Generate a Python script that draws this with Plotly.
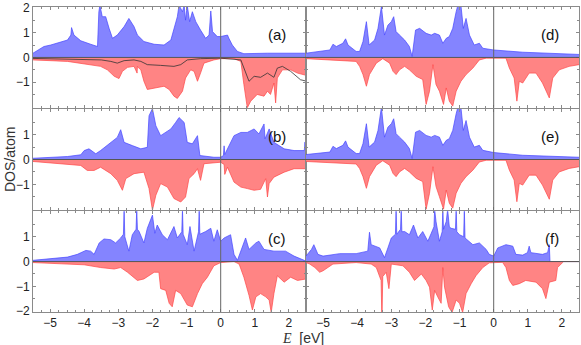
import plotly.graph_objects as go
from plotly.subplots import make_subplots

# ---- panel (a) ----
e_a_up = [-5.5, -5.18, -4.98, -4.49, -4.39, -4.37, -4.3, -4.1, -3.81, -3.61, -3.57, -3.54, -3.47, -3.37, -3.27,
          -3.17, -3.03, -2.83, -2.69, -2.54, -2.44, -2.25, -1.95, -1.66, -1.46, -1.37, -1.27, -1.22, -1.12,
          -1.07, -1.03, -0.98, -0.91, -0.83, -0.73, -0.59, -0.44, -0.34, -0.29, -0.24, -0.1, 0.0, 0.2, 0.24,
          0.34, 0.49, 0.68, 1.37, 2.5]
dos_a_up = [0.17, 0.44, 0.5, 0.7, 0.9, 1.2, 0.9, 0.67, 0.53, 0.44, 1.84, 2.1, 1.64, 1.64, 1.17,
            0.77, 0.9, 1.24, 1.57, 1.24, 0.9, 0.64, 0.53, 0.5, 0.7, 1.17, 1.64, 2.1, 1.84,
            2.1, 1.5, 2.1, 1.44, 1.84, 1.44, 1.1, 0.77, 0.9, 1.87, 1.04, 0.84, 0.84, 0.9, 0.77,
            0.5, 0.24, 0.15, 0.17, 0.17]
e_a_dn = [-5.5, -4.49, -3.52, -3.32, -3.12, -2.98, -2.88, -2.73, -2.54, -2.45, -2.44, -2.42, -2.34, -2.25,
          -2.15, -1.95, -1.66, -1.51, -1.37, -1.27, -1.12, -1.03, -0.88, -0.78, -0.68, -0.59, -0.49, -0.2,
          0.0, 0.39, 0.59, 0.68, 0.78, 0.88, 1.07, 1.27, 1.37, 1.46, 1.56, 1.61, 1.66, 1.81, 2.05, 2.25, 2.5]
dos_a_dn = [-0.1, -0.16, -0.36, -0.5, -0.76, -0.85, -0.56, -0.4, -0.36, -0.63, -0.36, -0.4, -0.5, -0.96,
            -1.29, -1.23, -1.16, -1.29, -1.56, -1.65, -1.36, -0.83, -0.5, -0.56, -0.96, -0.63, -0.23, -0.1,
            -0.05, -0.05, -0.16, -1.09, -2.03, -1.76, -1.49, -1.56, -1.36, -1.49, -1.03, -1.83, -0.83, -0.5,
            -0.5, -0.63, -0.72]
e_a_ref = [-5.5, -3.5, -3.22, -3.03, -2.83, -2.54, -2.34, -2.15, -1.76, -1.37, -1.17, -0.98, -0.59, 0.0,
           0.59, 0.73, 0.83, 0.98, 1.17, 1.37, 1.56, 1.66, 1.81, 2.05, 2.34, 2.5]
dos_a_ref = [-0.04, -0.1, -0.16, -0.23, -0.13, -0.1, -0.16, -0.29, -0.32, -0.36, -0.29, -0.1, -0.05, -0.03,
             -0.1, -0.56, -0.96, -0.76, -0.8, -0.63, -0.8, -0.43, -0.36, -0.56, -0.9, -0.95]

# ---- panel (b) ----
e_b_up = [-5.5, -4.49, -4.1, -4.0, -3.86, -3.66, -3.52, -3.22, -3.03, -2.93, -2.83, -2.59, -2.34, -2.15,
          -2.1, -2.0, -1.9, -1.76, -1.61, -1.46, -1.32, -1.22, -1.07, -0.98, -0.83, -0.68, -0.61, -0.2,
          0.0, 0.08, 0.1, 0.12, 0.15, 0.39, 0.59, 0.78, 0.98, 1.12, 1.27, 1.3, 1.42, 1.56, 1.86, 2.15,
          2.45, 2.47, 2.5]
dos_b_up = [0.05, 0.12, 0.19, 0.36, 0.43, 0.23, 0.36, 0.69, 0.89, 1.2, 0.69, 0.56, 0.43, 0.49,
            1.76, 2.05, 1.36, 0.96, 1.09, 1.23, 1.49, 1.69, 1.49, 0.69, 0.63, 0.96, 0.16, 0.09,
            0.09, 0.16, 0.55, 0.2, 0.29, 0.96, 1.09, 1.09, 1.23, 1.03, 1.43, 0.83, 1.23, 0.69, 0.43, 0.36,
            0.36, 0.7, 0.36]
e_b_dn = [-5.5, -4.1, -3.91, -3.71, -3.52, -3.22, -3.03, -2.88, -2.78, -2.54, -2.25, -2.1, -2.0, -1.9,
          -1.76, -1.56, -1.37, -1.17, -1.03, -0.93, -0.78, -0.68, -0.59, -0.49, 0.0, 0.1, 0.12, 0.2, 0.39,
          0.59, 0.78, 0.98, 1.17, 1.32, 1.37, 1.42, 1.56, 1.86, 2.15, 2.5]
dos_b_dn = [-0.08, -0.24, -0.44, -0.44, -0.31, -0.57, -0.84, -1.24, -0.77, -0.57, -0.51, -1.17, -2.04, -1.44,
            -0.97, -1.11, -1.57, -1.71, -1.51, -0.77, -0.57, -0.37, -0.84, -0.17, -0.11, -0.2, -0.6, -0.31,
            -0.91, -1.11, -1.17, -1.24, -1.2, -0.77, -1.51, -0.97, -0.71, -0.51, -0.37, -0.37]

# ---- panel (c) ----
e_c_up = [-5.5, -4.49, -4.2, -3.95, -3.81, -3.71, -3.56, -3.42, -3.22, -3.08, -2.93, -2.85, -2.83, -2.81,
          -2.69, -2.59, -2.48, -2.46, -2.44, -2.39, -2.25, -2.15, -2.0, -1.93, -1.86, -1.71, -1.56, -1.37,
          -1.27, -1.14, -1.12, -1.1, -0.98, -0.9, -0.78, -0.65, -0.63, -0.61, -0.44, -0.29, -0.2, -0.1, 0.0,
          0.1, 0.29, 0.39, 0.49, 0.59, 0.73, 0.83, 1.03, 1.12, 1.27, 1.56, 1.9, 2.15, 2.5]
dos_c_up = [0.05, 0.18, 0.29, 0.45, 0.42, 0.29, 0.75, 0.91, 0.88, 0.75, 0.95, 1.1, 2.1, 1.0,
            0.42, 1.08, 1.3, 2.1, 1.3, 1.21, 0.75, 1.34, 1.87, 1.14, 1.47, 1.08, 0.88, 1.41,
            0.95, 1.2, 2.1, 1.1, 0.68, 1.41, 0.42, 1.2, 2.1, 1.1, 1.21, 1.34, 0.82, 1.28, 0.82,
            0.95, 1.08, 0.29, 0.05, 0.42, 0.95, 0.49, 0.75, 0.82, 0.49, 0.42, 0.42, 0.22, 0.02]
e_c_dn = [-5.5, -4.0, -3.52, -3.12, -2.93, -2.73, -2.44, -2.25, -1.95, -1.81, -1.76, -1.61, -1.51, -1.42,
          -1.32, -1.17, -0.98, -0.83, -0.68, -0.54, -0.39, -0.2, 0.0, 0.39, 0.54, 0.68, 0.83, 0.93, 1.03,
          1.17, 1.32, 1.42, 1.48, 1.56, 1.66, 1.86, 2.05, 2.25, 2.5]
dos_c_dn = [-0.04, -0.13, -0.24, -0.3, -0.24, -0.43, -0.76, -0.7, -0.43, -0.43, -1.09, -1.16, -1.68, -1.82,
            -1.16, -1.29, -1.75, -1.82, -1.29, -0.89, -0.63, -0.17, -0.04, 0.0, -0.1, -0.63, -1.36, -1.95,
            -1.42, -1.29, -1.42, -1.55, -2.05, -1.29, -0.57, -0.83, -0.63, -0.76, -0.7]

# ---- panel (d) ----
e_d_up = [-5.5, -4.8, -4.71, -4.61, -4.42, -4.34, -4.27, -4.03, -3.93, -3.83, -3.73, -3.65, -3.49, -3.39,
          -3.29, -3.2, -3.1, -3.0, -2.93, -2.86, -2.76, -2.61, -2.47, -2.39, -2.29, -2.17, -1.98, -1.83,
          -1.73, -1.59, -1.49, -1.39, -1.3, -1.2, -1.1, -1.05, -0.96, -0.89, -0.81, -0.71, -0.57, -0.42,
          -0.32, 0.0, 0.85, 2.5]
dos_d_up = [0.17, 0.3, 0.53, 0.44, 0.57, 0.75, 0.5, 0.24, 0.24, 0.64, 1.44, 0.5, 0.7, 1.17,
            2.05, 0.9, 1.3, 1.44, 1.64, 1.04, 0.9, 0.7, 0.44, 0.04, 1.1, 1.17, 0.97, 0.9,
            0.97, 0.9, 0.57, 0.77, 0.84, 1.17, 1.84, 2.1, 2.1, 1.17, 1.57, 0.9, 0.5, 0.57,
            0.37, 0.3, 0.21, 0.12]
e_d_dn = [-5.5, -4.03, -3.93, -3.83, -3.73, -3.64, -3.44, -3.25, -3.05, -2.95, -2.86, -2.76, -2.61, -2.47,
          -2.27, -2.08, -1.98, -1.88, -1.78, -1.69, -1.59, -1.47, -1.39, -1.3, -1.2, -1.1, -0.96, -0.81,
          -0.61, -0.42, -0.22, 0.36, 0.46, 0.6, 0.68, 0.75, 0.85, 1.04, 1.24, 1.43, 1.63, 1.73, 1.92,
          2.21, 2.5]
dos_d_dn = [-0.05, -0.16, -0.36, -0.69, -1.16, -0.69, -0.23, -0.05, -0.23, -0.56, -0.69, -0.5, -0.36, -0.5,
            -0.76, -0.89, -1.89, -1.36, -0.29, -1.09, -1.36, -1.89, -1.23, -1.76, -1.96, -1.36, -0.96, -0.69,
            -0.43, -0.1, -0.03, -0.03, -0.43, -0.83, -1.76, -0.96, -1.03, -0.63, -0.63, -1.03, -1.63, -0.83,
            -0.5, -0.36, -0.29]

# ---- panel (e) ----
e_e_up = [-5.5, -4.8, -4.71, -4.61, -4.42, -4.34, -4.27, -4.03, -3.93, -3.83, -3.73, -3.65, -3.49, -3.39,
          -3.29, -3.2, -3.1, -3.0, -2.93, -2.86, -2.76, -2.61, -2.47, -2.39, -2.29, -2.17, -1.98, -1.83,
          -1.73, -1.59, -1.49, -1.39, -1.3, -1.2, -1.1, -1.05, -0.96, -0.89, -0.81, -0.71, -0.57, -0.42,
          -0.32, 0.0, 0.85, 2.5]
dos_e_up = [0.2, 0.3, 0.53, 0.44, 0.57, 0.75, 0.5, 0.24, 0.24, 0.64, 1.44, 0.5, 0.7, 1.17,
            2.1, 0.9, 1.3, 1.44, 1.64, 1.04, 0.9, 0.7, 0.44, 0.04, 1.1, 1.17, 0.97, 0.9,
            0.97, 0.9, 0.57, 0.77, 0.84, 1.17, 1.84, 2.1, 2.1, 1.17, 1.57, 0.9, 0.5, 0.57,
            0.37, 0.28, 0.17, 0.09]
e_e_dn = [-5.5, -4.03, -3.93, -3.83, -3.73, -3.64, -3.44, -3.25, -3.05, -2.95, -2.86, -2.76, -2.61, -2.47,
          -2.27, -2.08, -1.98, -1.88, -1.78, -1.69, -1.59, -1.47, -1.39, -1.3, -1.2, -1.1, -0.96, -0.81,
          -0.61, -0.42, -0.22, 0.36, 0.46, 0.6, 0.68, 0.75, 0.85, 1.04, 1.24, 1.43, 1.63, 1.73, 1.92,
          2.21, 2.5]
dos_e_dn = [-0.08, -0.18, -0.36, -0.69, -1.16, -0.69, -0.23, -0.05, -0.23, -0.56, -0.69, -0.5, -0.36, -0.5,
            -0.76, -0.89, -2.0, -1.36, -0.29, -1.09, -1.5, -2.0, -1.23, -1.76, -1.96, -1.36, -0.96, -0.69,
            -0.43, -0.1, -0.03, -0.03, -0.43, -0.83, -1.7, -0.96, -1.03, -0.63, -0.63, -1.03, -1.6, -0.83,
            -0.5, -0.36, -0.29]

# ---- panel (f) ----
e_f_up = [-5.5, -5.34, -5.27, -5.15, -5.0, -4.51, -4.03, -3.88, -3.69, -3.64, -3.59, -3.34, -3.2, -3.1,
          -3.0, -2.88, -2.86, -2.84, -2.73, -2.71, -2.69, -2.61, -2.47, -2.35, -2.22, -2.08, -1.93, -1.83,
          -1.75, -1.73, -1.69, -1.59, -1.51, -1.49, -1.47, -1.39, -1.35, -1.3, -1.25, -1.12, -1.1, -1.08,
          -1.0, -0.88, -0.86, -0.84, -0.61, -0.42, -0.22, -0.13, 0.0, 0.12, 0.36, 0.56, 0.65, 0.85, 0.99,
          1.04, 1.09, 1.43, 1.58, 1.63, 1.64, 1.65, 2.5]
dos_f_up = [0.22, 0.49, 0.68, 0.29, 0.22, 0.32, 0.32, 0.36, 0.42, 1.18, 0.68, 0.55, 0.16, 0.55,
            0.95, 1.1, 2.1, 1.1, 1.3, 2.1, 1.2, 1.21, 1.08, 1.47, 0.95, 1.21, 0.82, 1.14,
            1.4, 2.1, 1.61, 0.82, 1.2, 2.1, 1.3, 1.61, 2.1, 1.4, 1.34, 1.3, 2.1, 1.2,
            1.08, 1.0, 2.1, 0.95, 0.68, 0.75, 0.49, 0.29, 0.22, 0.55, 0.68, 0.62, 0.29, 0.26, 0.36,
            0.62, 0.36, 0.29, 0.36, 0.68, 0.2, 0.0, 0.0]
e_f_dn = [-5.5, -5.39, -5.24, -5.1, -5.0, -4.71, -4.03, -3.59, -3.44, -3.3, -3.28, -3.27, -3.25, -3.15,
          -3.07, -3.0, -2.66, -2.47, -2.32, -2.12, -1.98, -1.88, -1.8, -1.73, -1.64, -1.54, -1.49, -1.44,
          -1.32, -1.22, -1.1, -1.0, -0.91, -0.81, -0.66, -0.52, -0.32, -0.13, 0.26, 0.36, 0.46, 0.56,
          0.75, 0.94, 1.24, 1.43, 1.53, 1.63, 1.82, 1.87, 2.02, 2.05, 2.5]
dos_f_dn = [-0.04, -0.1, -0.24, -0.43, -0.37, -0.1, -0.04, -0.1, -0.24, -0.76, -2.05, -2.05, -0.6, -0.43,
            -1.09, -0.1, -0.17, -0.43, -0.76, -0.5, -0.76, -1.03, -1.95, -1.16, -1.42, -1.68, -0.24, -1.03,
            -1.82, -2.05, -1.55, -1.68, -2.05, -1.29, -0.89, -0.57, -0.24, -0.05, -0.03, -0.24, -0.76, -0.96,
            -0.89, -0.76, -0.83, -1.09, -1.49, -0.83, -0.76, -0.24, -0.04, 0.0, 0.0]

panels = [
    # (row, col, label, up, down)
    (1, 1, "(a)", (e_a_up, dos_a_up), (e_a_dn, dos_a_dn)),
    (2, 1, "(b)", (e_b_up, dos_b_up), (e_b_dn, dos_b_dn)),
    (3, 1, "(c)", (e_c_up, dos_c_up), (e_c_dn, dos_c_dn)),
    (1, 2, "(d)", (e_d_up, dos_d_up), (e_d_dn, dos_d_dn)),
    (2, 2, "(e)", (e_e_up, dos_e_up), (e_e_dn, dos_e_dn)),
    (3, 2, "(f)", (e_f_up, dos_f_up), (e_f_dn, dos_f_dn)),
]

x_ticks = [-5, -4, -3, -2, -1, 0, 1, 2]
y_ticks_by_row = {1: [2, 1, 0, -1], 2: [1, 0, -1], 3: [1, 0, -1, -2]}

BLUE_FILL = "rgb(132,132,255)"
BLUE_LINE = "rgb(70,70,255)"
RED_FILL = "rgb(255,132,132)"
RED_LINE = "rgb(255,70,70)"
FRAME = "#8a8a8a"
FONT = "Liberation Sans"

fig = make_subplots(rows=3, cols=2, horizontal_spacing=0, vertical_spacing=0.004)

for row, col, label, up, dn in panels:
    fig.add_trace(go.Scatter(x=up[0], y=up[1], mode="lines", fill="tozeroy",
                             fillcolor=BLUE_FILL, line=dict(color=BLUE_LINE, width=0.7),
                             showlegend=False), row=row, col=col)
    fig.add_trace(go.Scatter(x=dn[0], y=dn[1], mode="lines", fill="tozeroy",
                             fillcolor=RED_FILL, line=dict(color=RED_LINE, width=0.7),
                             showlegend=False), row=row, col=col)
    if label == "(a)":
        fig.add_trace(go.Scatter(x=e_a_ref, y=dos_a_ref, mode="lines",
                                 line=dict(color="#333333", width=0.8),
                                 showlegend=False), row=row, col=col)

    fig.add_hline(y=0, line=dict(color="#555555", width=1), row=row, col=col)
    fig.add_vline(x=0, line=dict(color="#666666", width=1), row=row, col=col)

    fig.update_xaxes(range=[-5.5, 2.5], tickvals=x_ticks, showticklabels=(row == 3),
                     ticks="inside", ticklen=3, tickcolor=FRAME,
                     minor=dict(dtick=0.25, ticks="inside", ticklen=2, tickcolor=FRAME),
                     showline=True, mirror="allticks", linecolor=FRAME, linewidth=1,
                     showgrid=False, zeroline=False, ticklabeloverflow="allow",
                     tickfont=dict(family=FONT, size=12, color="#222"),
                     row=row, col=col)
    fig.update_yaxes(range=[-2.03, 2.03], tickvals=y_ticks_by_row[row], showticklabels=(col == 1),
                     ticks="inside", ticklen=3, tickcolor=FRAME,
                     minor=dict(dtick=0.5, ticks="inside", ticklen=2, tickcolor=FRAME),
                     showline=True, mirror="allticks", linecolor=FRAME, linewidth=1,
                     showgrid=False, zeroline=False, ticklabeloverflow="allow",
                     tickfont=dict(family=FONT, size=12, color="#222"),
                     row=row, col=col)

    idx = (row - 1) * 2 + col
    ax = "" if idx == 1 else str(idx)
    fig.add_annotation(text=label, xref=f"x{ax} domain", yref=f"y{ax} domain",
                       x=0.935, y=0.83, showarrow=False,
                       font=dict(family=FONT, size=15, color="#111"))

fig.add_annotation(text="DOS/atom", xref="paper", yref="paper", x=-0.043, y=0.5,
                   xanchor="center", yanchor="middle", textangle=-90, showarrow=False,
                   font=dict(family=FONT, size=14, color="#333"))
fig.add_annotation(text="<span style='font-family:Liberation Serif;font-style:italic'>E</span>  [eV]",
                   xref="paper", yref="paper", x=0.495, y=-0.085, yanchor="middle",
                   showarrow=False, font=dict(family=FONT, size=14, color="#333"))

fig.update_layout(
    width=581, height=345,
    margin=dict(l=33, r=1, t=5, b=33),
    paper_bgcolor="white", plot_bgcolor="white",
    showlegend=False,
)

# page body margin would shift the figure by 8px
fig.write_html("out.html", config={"displayModeBar": False},
               post_script="document.body.style.margin='0';document.body.style.overflow='hidden';")
